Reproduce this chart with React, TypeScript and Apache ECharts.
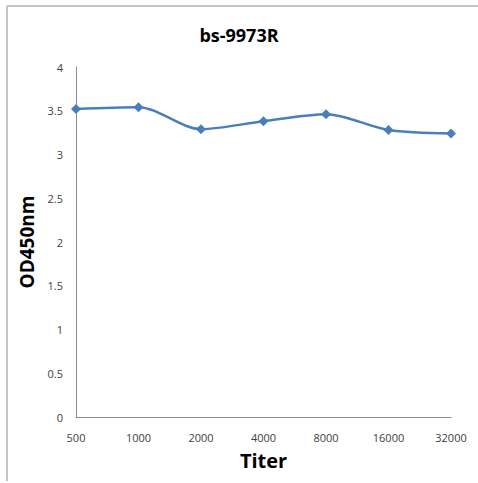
import React, { useEffect, useRef } from "react";
import * as echarts from "echarts";

const titerLabels = ["500", "1000", "2000", "4000", "8000", "16000", "32000"];
const odValues = [3.52, 3.54, 3.29, 3.38, 3.46, 3.28, 3.24];
const yMin = 0;
const yMax = 4;
const yInterval = 0.5;

export default function App() {
  const ref = useRef<HTMLDivElement>(null);
  useEffect(() => {
    if (!ref.current) return;
    const chart = echarts.init(ref.current, undefined, { renderer: "svg" });
    const font = "'Open Sans', 'Liberation Sans', sans-serif";
    chart.setOption({
      animation: false,
      backgroundColor: "#ffffff",
      graphic: [
        {
          type: "line",
          shape: { x1: 7, y1: 6, x2: 478, y2: 6 },
          style: { stroke: "#c4c4c4", lineWidth: 2 },
          silent: true,
        },
        {
          type: "line",
          shape: { x1: 7, y1: 6, x2: 7, y2: 481 },
          style: { stroke: "#c4c4c4", lineWidth: 2 },
          silent: true,
        },
      ],
      title: {
        text: "bs-9973R",
        left: "center",
        top: 21,
        textStyle: { fontFamily: font, fontSize: 18, fontWeight: "bold", color: "#000" },
      },
      grid: { left: 76, right: 27, top: 67, bottom: 66, containLabel: false },
      xAxis: {
        type: "category",
        data: titerLabels,
        boundaryGap: false,
        name: "Titer",
        nameLocation: "middle",
        nameGap: 33,
        nameTextStyle: { fontFamily: font, fontSize: 20, fontWeight: "bold", color: "#000" },
        axisLine: { lineStyle: { color: "#8c8c8c", width: 1 } },
        axisTick: { show: false },
        axisLabel: { fontFamily: font, fontSize: 11, color: "#404040", margin: 15 },
        splitLine: { show: false },
      },
      yAxis: {
        type: "value",
        min: yMin,
        max: yMax,
        interval: yInterval,
        name: "OD450nm",
        nameLocation: "middle",
        nameGap: 39,
        nameTextStyle: { fontFamily: font, fontSize: 19, fontWeight: "bold", color: "#000" },
        axisLine: { show: true, lineStyle: { color: "#8c8c8c", width: 1 } },
        axisTick: { show: false },
        axisLabel: { fontFamily: font, fontSize: 11, color: "#404040", margin: 13 },
        splitLine: { show: false },
      },
      series: [
        {
          type: "line",
          data: odValues,
          smooth: 0.3,
          symbol: "diamond",
          symbolSize: 10,
          lineStyle: { color: "#4a7ebb", width: 2.5 },
          itemStyle: { color: "#4a7ebb" },
        },
      ],
    });
    return () => chart.dispose();
  }, []);
  return (
    <div
      ref={ref}
      style={{ position: "fixed", left: 0, top: 0, width: 478, height: 483 }}
    />
  );
}
